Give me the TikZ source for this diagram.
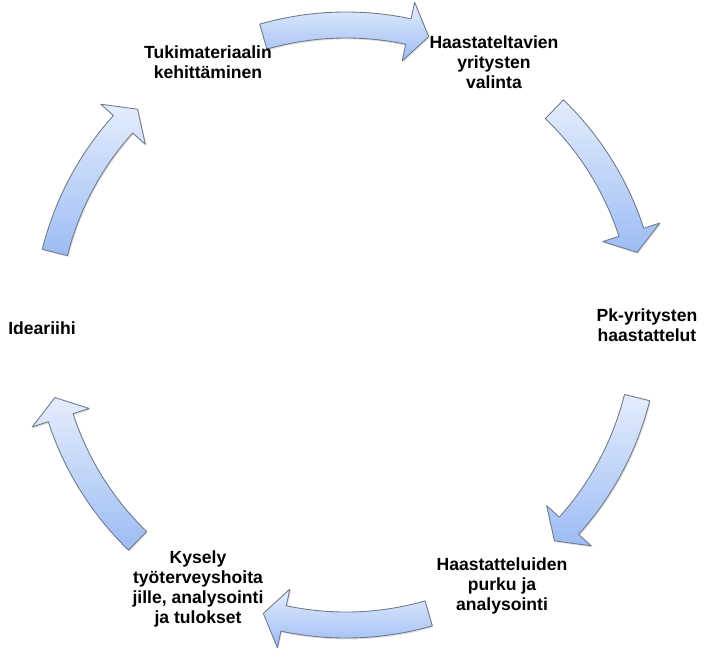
\documentclass[tikz,border=0pt]{standalone}
\usepackage{fontspec}
\setmainfont{Liberation Sans}
\usetikzlibrary{shadows}
\definecolor{arrowlight}{HTML}{E4EDFC}
\definecolor{arrowdark}{HTML}{9DBCF4}
\definecolor{arrowedge}{HTML}{6F7A8A}

\tikzset{
    cyclearrow/.style={draw=arrowedge, line width=0.5pt, line join=round,
        top color=arrowlight, bottom color=arrowdark,
        drop shadow={opacity=0.25, shadow xshift=0.6pt, shadow yshift=-0.8pt}},
    steptext/.style={align=center, inner sep=0pt,
        font=\fontsize{10}{11.5}\selectfont\bfseries}
}

\begin{document}
\begin{tikzpicture}
        \def\rCycle{6}
        \def\rIn{5.74}
        \def\rOut{6.26}
        \def\rHeadIn{5.4}
        \def\rHeadOut{6.6}
        \def\tailAngle{16}
        \def\neckAngle{-12}
        \def\tipAngle{-16}

        \useasboundingbox (-6.92, -6.48) rectangle (7.18, 6.50);

        % curved arrows of the cycle
        \foreach \a in {90, 30, -30, -90, -150, 150} {
            \draw [cyclearrow]
                (\a+\tailAngle:\rOut)
                    arc [start angle=\a+\tailAngle, end angle=\a+\neckAngle, radius=\rOut]
                -- (\a+\neckAngle:\rHeadOut)
                -- (\a+\tipAngle:\rCycle)
                -- (\a+\neckAngle:\rHeadIn)
                -- (\a+\neckAngle:\rIn)
                    arc [start angle=\a+\neckAngle, end angle=\a+\tailAngle, radius=\rIn]
                -- cycle;
        }

        \node [steptext] (tuki) at (-2.76, 5.26) {Tukimateriaalin\\kehittäminen};
        \node [steptext] (valinta) at (2.96, 5.26) {Haastateltavien\\yritysten\\valinta};
        \node [steptext] (haastattelut) at (6.02, 0) {Pk-yritysten\\haastattelut};
        \node [steptext] (purku) at (3.12, -5.22) {Haastatteluiden\\purku ja\\analysointi};
        \node [steptext] (kysely) at (-2.96, -5.28) {Kysely\\työterveyshoita\\jille, analysointi\\ja tulokset};
        \node [steptext] (ideariihi) at (-6.08, -0.06) {Ideariihi};
    \end{tikzpicture}
\end{document}
